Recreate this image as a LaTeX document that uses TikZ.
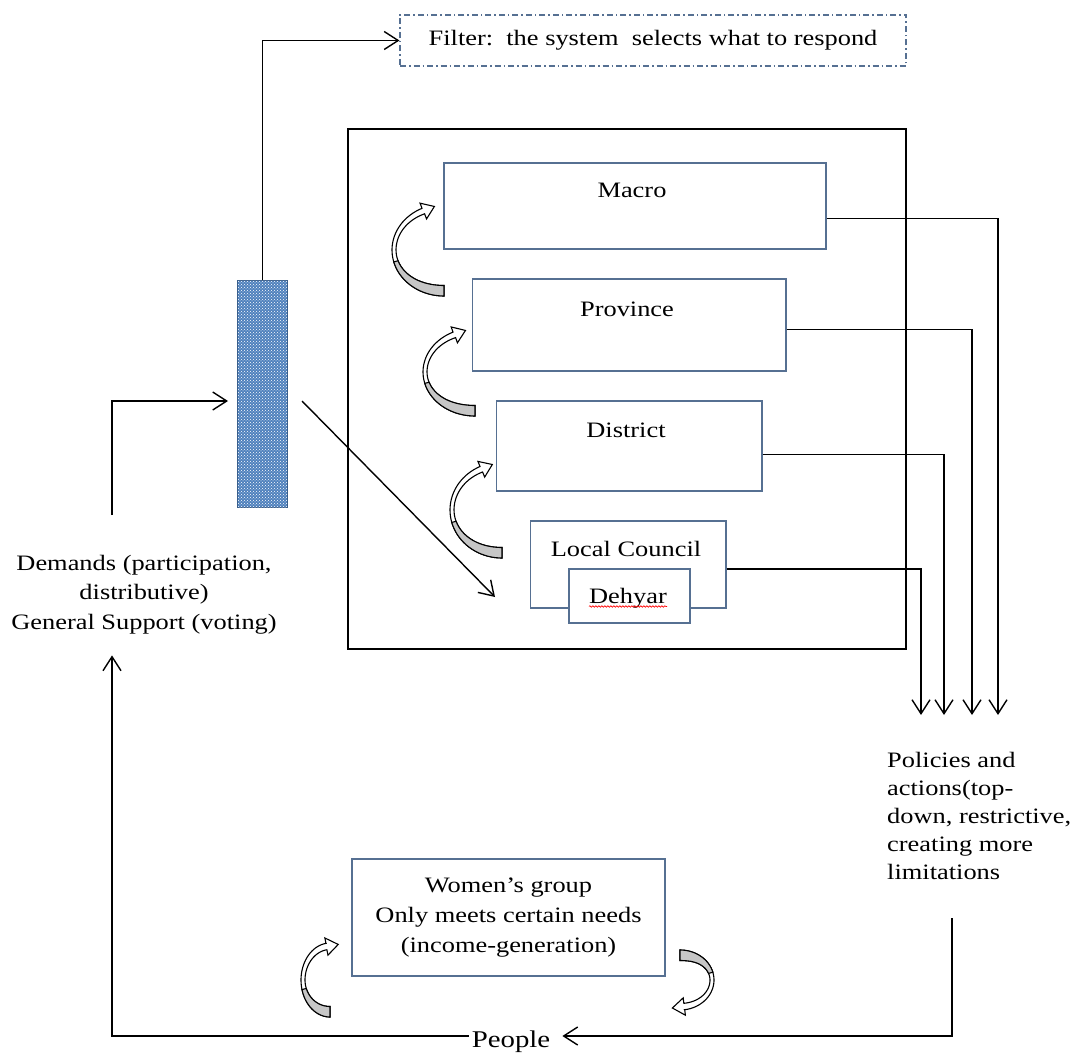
\documentclass[tikz,border=0pt]{standalone}
\usepackage{fontspec}
\setmainfont{Liberation Serif}[FakeStretch=1.2]
\usetikzlibrary{arrows.meta,calc,patterns,decorations.pathmorphing}
\definecolor{boxblue}{RGB}{86,112,146}
\definecolor{fillblue}{RGB}{79,129,189}
\definecolor{edgeblue}{RGB}{56,93,138}

\newcommand{\curvarr}[6]{%
\begin{scope}[shift={(#1,#2)},rotate=#6]
\pgfmathsetmacro{\cvCa}{cos(#5)}%
\pgfmathsetmacro{\cvSa}{sin(#5)}%
\pgfmathsetmacro{\cvW}{4+2.5*(\cvSa)*(\cvSa)}%
\pgfmathsetmacro{\cvMx}{((#3)-(\cvW)/2)*(\cvCa)}%
\pgfmathsetmacro{\cvMy}{((#4)-(\cvW)/2)*(\cvSa)}%
\pgfmathsetmacro{\cvOx}{(#3)*(\cvCa)}%
\pgfmathsetmacro{\cvOy}{(#4)*(\cvSa)}%
\pgfmathsetmacro{\cvIx}{((#3)-(\cvW))*(\cvCa)}%
\pgfmathsetmacro{\cvIy}{((#4)-(\cvW))*(\cvSa)}%
\pgfmathsetmacro{\cvTx}{-(#3)*(\cvSa)}%
\pgfmathsetmacro{\cvTy}{(#4)*(\cvCa)}%
\pgfmathsetmacro{\cvTl}{sqrt((\cvTx)*(\cvTx)+(\cvTy)*(\cvTy))}%
\pgfmathsetmacro{\cvNx}{(#4)*(\cvCa)}%
\pgfmathsetmacro{\cvNy}{(#3)*(\cvSa)}%
\pgfmathsetmacro{\cvNl}{sqrt((\cvNx)*(\cvNx)+(\cvNy)*(\cvNy))}%
\pgfmathsetmacro{\cvH}{(\cvW)/2+5.5}%
\pgfmathsetmacro{\cvAx}{(\cvMx)+(\cvH)*(\cvNx)/(\cvNl)}%
\pgfmathsetmacro{\cvAy}{(\cvMy)+(\cvH)*(\cvNy)/(\cvNl)}%
\pgfmathsetmacro{\cvBx}{(\cvMx)-(\cvH)*(\cvNx)/(\cvNl)}%
\pgfmathsetmacro{\cvBy}{(\cvMy)-(\cvH)*(\cvNy)/(\cvNl)}%
\pgfmathsetmacro{\cvPx}{(\cvMx)+12*(\cvTx)/(\cvTl)}%
\pgfmathsetmacro{\cvPy}{(\cvMy)+12*(\cvTy)/(\cvTl)}%
\filldraw[cband,fill=white] plot[domain=90:#5,samples=40] ({(#3)*cos(\x)},{(#4)*sin(\x)})
 -- (\cvOx,\cvOy) -- (\cvAx,\cvAy) -- (\cvPx,\cvPy) -- (\cvBx,\cvBy) -- (\cvIx,\cvIy)
 -- plot[domain=#5:90,samples=40] ({((#3)-4-ifthenelse(\x<180,6.5,2.5)*sin(\x)*sin(\x))*cos(\x)},{((#4)-4-ifthenelse(\x<180,6.5,2.5)*sin(\x)*sin(\x))*sin(\x)}) -- cycle;
\filldraw[cband,fill=gray!45] plot[domain=90:165,samples=20] ({(#3)*cos(\x)},{(#4)*sin(\x)})
 -- plot[domain=165:90,samples=20] ({((#3)-4-6.5*sin(\x)*sin(\x))*cos(\x)},{((#4)-4-6.5*sin(\x)*sin(\x))*sin(\x)}) -- cycle;
\end{scope}}

\begin{document}
\begin{tikzpicture}[x=1pt,y=-1pt,
  txt/.style={font=\fontsize{22}{28}\selectfont, inner sep=0pt},
  lvl/.style={draw=boxblue, line width=1.4pt, fill=white, inner sep=0pt},
  conn/.style={line width=1.4pt},
  arr/.style={conn,-{Straight Barb[length=14pt,width=18pt]}},
  cband/.style={draw=black, line width=1.1pt}]
\useasboundingbox (0,0) rectangle (1079,1054);
\fill[white] (0,0) rectangle (1079,1054);

% filter note
\node[txt, draw=boxblue, line width=1.1pt, dash pattern=on 6pt off 3pt on 1.5pt off 3pt,
      minimum width=506pt, minimum height=51pt] (fb) at (653,40.5)
      {Filter:\ \ the system\ \ selects what to respond};

% outer system box
\node[draw=black, line width=1.4pt, minimum width=558pt, minimum height=520pt, inner sep=0pt] (sys) at (627,389) {};

% level boxes
\node[lvl, minimum width=382pt, minimum height=86pt] (macro) at (635,206) {};
\node[lvl, minimum width=313.4pt, minimum height=92pt] (prov) at (629.3,325) {};
\node[lvl, minimum width=265.3pt, minimum height=90pt] (dist) at (629.35,446) {};
\node[lvl, minimum width=195.3pt, minimum height=87pt] (lc) at (628.35,564.5) {};
\node[lvl, minimum width=121pt, minimum height=54pt] (deh) at (629.5,596) {};

\node[txt, anchor=base] (tmacro) at (632,197.6) {Macro};
\node[txt, anchor=base] (tprov) at (627,316.5) {Province};
\node[txt, anchor=base] (tdist) at (626,437) {District};
\node[txt, anchor=base] (tlc) at (626,556) {Local Council};
\node[txt, anchor=base] (tdeh) at (628,603) {Dehyar};
\draw[red, line width=0.6pt, decorate, decoration={snake, amplitude=0.8pt, segment length=3pt}]
  ($(tdeh.base west)+(0,3.5)$) -- ($(tdeh.base east)+(0,3.5)$);

% curved arrows between levels
\curvarr{444}{250}{52}{46}{245}{0}
\curvarr{475}{372}{52}{44}{245}{0}
\curvarr{502}{510}{52}{48}{245}{0}

% filter bar
\node[draw=edgeblue, line width=1pt, fill=fillblue, minimum width=49.6pt, minimum height=227pt,
      inner sep=0pt, postaction={pattern=crosshatch dots, pattern color=white}] (flt) at (262.5,393.5) {};

% demands
\node[txt, font=\fontsize{22}{29.5}\selectfont, align=center, anchor=north] (dem) at (144,555)
  {Demands (participation,\\distributive)\\General Support (voting)};

% policies
\node[txt, align=left, anchor=north west] (pol) at (887,752)
  {Policies and\\actions(top-\\down, restrictive,\\creating more\\limitations};

% women's group
\node[lvl, font=\fontsize{22}{30}\selectfont, align=center, minimum width=313pt, minimum height=117pt] (wg) at (508.5,917.5)
  {Women’s group\\Only meets certain needs\\(income-generation)};

% people
\node[txt, font=\fontsize{24}{28}\selectfont, anchor=base] (ppl) at (511,1047) {People};

% women's group curved arrows
\curvarr{330}{980}{29}{37}{262}{0}
\curvarr{680}{980}{34}{30}{262}{180}

% coordinates for connector ends
\coordinate (dtop) at (112,515);
\coordinate (ain) at (228,401);
\coordinate (dstart) at (302,401);
\coordinate (dend) at (495,597);
\coordinate (a1) at (921,715);
\coordinate (a2) at (944,715);
\coordinate (a3) at (972,715);
\coordinate (a4) at (998,715);
\coordinate (poltail) at (952,918);
\coordinate (br) at (952,1036);
\coordinate (bl) at (112,1036);

% connectors
\draw[arr] (dtop) |- (ain);
\draw[arr] (flt.north) |- (fb.west);
\draw[arr] (dstart) -- (dend);
\draw[arr] ($(macro.north east)!0.64!(macro.south east)$) -| (a4);
\draw[arr] ($(prov.north east)!0.55!(prov.south east)$) -| (a3);
\draw[arr] ($(dist.north east)!0.59!(dist.south east)$) -| (a2);
\draw[arr] ($(lc.north east)!0.55!(lc.south east)$) -| (a1);
\draw[arr, shorten >=12pt] (poltail) -- (br) -- (ppl.east |- br);
\draw[arr, shorten >=21pt] ([xshift=-3pt]ppl.west |- bl) -- (bl) -- (bl |- dem.south);
\end{tikzpicture}
\end{document}
